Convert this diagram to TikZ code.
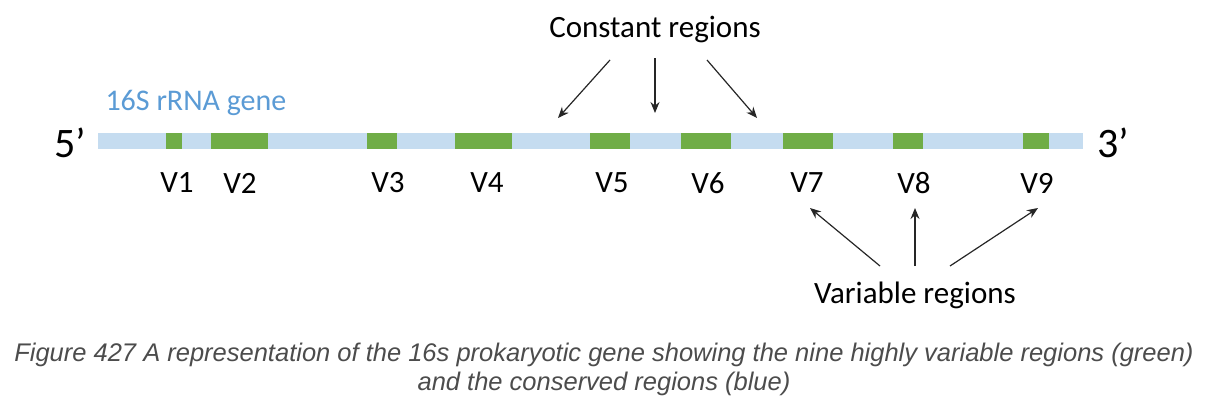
\documentclass[tikz,border=0pt]{standalone}
\usepackage{fontspec}
\setmainfont{Carlito}
\newfontfamily\capfont{Liberation Sans}
\definecolor{genblue}{HTML}{C5DCF0}
\definecolor{vargreen}{HTML}{70AD47}
\definecolor{labblue}{HTML}{5B9BD5}
\tikzset{
  region/.style={fill=vargreen, draw=none},
  vlabel/.style={font=\fontsize{31}{34}\selectfont},
  pointer/.style={-{Stealth[length=11pt,width=9pt]}, line width=1.2pt, black!85}
}
\usetikzlibrary{arrows.meta}
\begin{document}
\begin{tikzpicture}[x=1pt, y=-1pt]
        \useasboundingbox (0,0) rectangle (1208,408);
        % gene bar
        \fill[genblue] (98,133) rectangle (1083,149);
        \foreach \a/\b/\c/\n in {166/182/177/1, 211/268/240/2, 367/397/388/3, 455/512/487/4, 590/630/612/5, 681/731/708/6, 783/833/807/7, 893/923/914/8, 1023/1049/1037/9}
        {
            \fill[region] (\a,133) rectangle (\b,149);
            \node[vlabel] (v\n) at (\c,183) {V\n};
        }
        \node[font=\fontsize{42}{46}\selectfont] (five) at (70,143) {5’};
        \node[font=\fontsize{42}{46}\selectfont] (three) at (1113,143) {3’};
        \node[labblue, anchor=west, font=\fontsize{30}{34}\selectfont] (gene) at (102,103) {16S rRNA gene};

        % constant regions
        \node[vlabel] (const) at (655,29) {Constant regions};
        \coordinate (c1) at (558,118);
        \coordinate (c2) at (655,113);
        \coordinate (c3) at (757,118);
        \draw[pointer] (610,60) -- (c1);
        \draw[pointer] (655,58) -- (c2);
        \draw[pointer] (707,60) -- (c3);

        % variable regions
        \node[vlabel] (var) at (915,295) {Variable regions};
        \coordinate (t7) at (810,208);
        \coordinate (t8) at (915,208);
        \coordinate (t9) at (1038,208);
        \draw[pointer] (880,266) -- (t7);
        \draw[pointer] (915,266) -- (t8);
        \draw[pointer] (950,266) -- (t9);

        % caption
        \node[black!70, align=center, font=\capfont\itshape\fontsize{25.5}{29}\selectfont] (cap) at (604,369)
            {Figure 427 A representation of the 16s prokaryotic gene showing the nine highly variable regions (green)\\and the conserved regions (blue)};
\end{tikzpicture}
\end{document}
